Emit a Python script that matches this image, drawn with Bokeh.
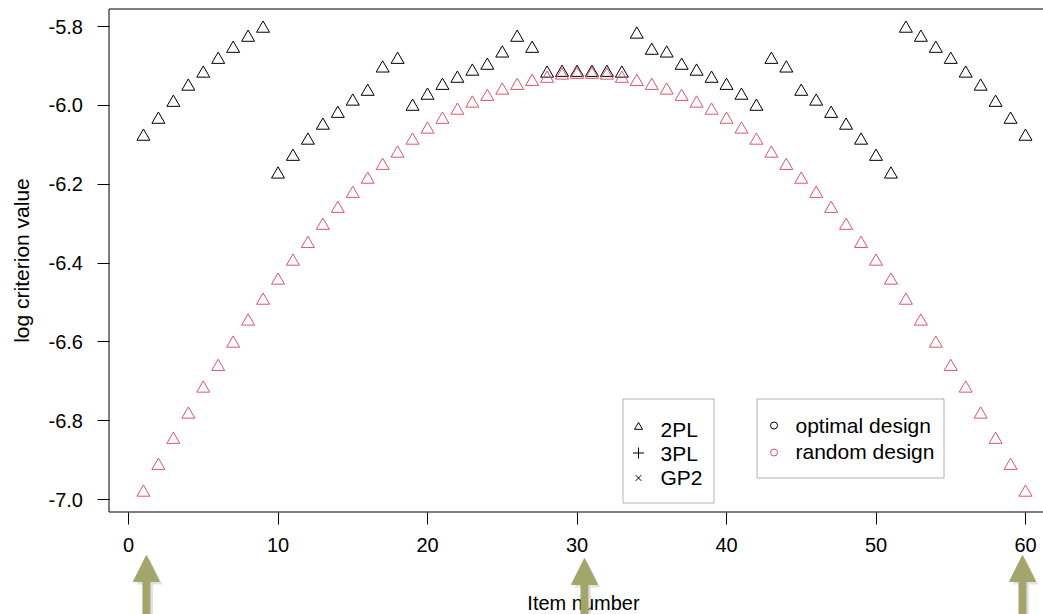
import math
from bokeh.plotting import figure
from bokeh.models import (Range1d, FixedTicker, PrintfTickFormatter, BoxAnnotation,
                          Label, ColumnDataSource)
from bokeh.embed import file_html
from bokeh.resources import INLINE

# ---------------- data ----------------
items = list(range(1, 61))

optimal_design = [
    -6.079, -6.036, -5.993, -5.952, -5.919, -5.884, -5.856, -5.828, -5.805, -6.175,
    -6.130, -6.089, -6.051, -6.021, -5.990, -5.965, -5.906, -5.884, -6.003, -5.975,
    -5.950, -5.932, -5.914, -5.899, -5.868, -5.828, -5.856, -5.919, -5.917, -5.917,
    -5.917, -5.917, -5.919, -5.820, -5.861, -5.868, -5.899, -5.914, -5.932, -5.950,
    -5.975, -6.003, -5.884, -5.906, -5.965, -5.990, -6.021, -6.051, -6.089, -6.130,
    -6.175, -5.805, -5.828, -5.856, -5.884, -5.919, -5.952, -5.993, -6.036, -6.079,
]

random_design = [
    -6.982, -6.914, -6.848, -6.784, -6.718, -6.663, -6.604, -6.548, -6.495, -6.444,
    -6.396, -6.351, -6.305, -6.262, -6.224, -6.188, -6.153, -6.122, -6.089, -6.061,
    -6.036, -6.013, -5.995, -5.978, -5.962, -5.950, -5.940, -5.932, -5.924, -5.922,
    -5.922, -5.924, -5.932, -5.940, -5.950, -5.962, -5.978, -5.995, -6.013, -6.036,
    -6.061, -6.089, -6.122, -6.153, -6.188, -6.224, -6.262, -6.305, -6.351, -6.396,
    -6.444, -6.495, -6.548, -6.604, -6.663, -6.718, -6.784, -6.848, -6.914, -6.982,
]

x_ticks = [0, 10, 20, 30, 40, 50, 60]
y_ticks = [-7.0, -6.8, -6.6, -6.4, -6.2, -6.0, -5.8]
x_title = "Item number"
y_title = "log criterion value"
model_labels = ["2PL", "3PL", "GP2"]
model_markers = ["triangle", "cross", "x"]
design_labels = ["optimal design", "random design"]
design_colors = ["black", "#DF536B"]
arrow_items = [1.2, 30.5, 59.8]

# ---------------- layout ----------------
# The frame covers the whole canvas; R's plot box, axes and titles are placed inside it
W, H = 1043, 614
X0, X1 = -8.5619, 61.2040
Y0, Y1 = -7.29163, -5.73404
FONT = "Liberation Sans"
OLIVE = "#A3A66B"


def dx(px):
    """canvas pixel x -> data x"""
    return X0 + px * (X1 - X0) / W


def dy(py):
    """canvas pixel y -> data y"""
    return Y1 - py * (Y1 - Y0) / H


def px_x(v):
    return (v - X0) * W / (X1 - X0)


BOX_LEFT, BOX_TOP, BOX_BOTTOM = dx(108.5), dy(8.5), dy(511.5)

p = figure(width=W, height=H, x_range=Range1d(X0, X1), y_range=Range1d(Y0, Y1),
           output_backend="svg", toolbar_location=None,
           min_border_left=0, min_border_right=0, min_border_top=0, min_border_bottom=0)

p.xgrid.visible = False
p.ygrid.visible = False
p.outline_line_color = None
p.background_fill_color = "white"
p.border_fill_color = "white"

for ax in (p.xaxis[0], p.yaxis[0]):
    ax.axis_line_color = None
    ax.major_tick_out = 12
    ax.major_tick_in = 0
    ax.minor_tick_out = 0
    ax.minor_tick_in = 0
    ax.major_tick_line_color = "black"
    ax.major_label_text_font = FONT
    ax.major_label_text_font_size = "20px"
    ax.major_label_text_color = "black"
    ax.major_label_standoff = 14

xa = p.xaxis[0]
xa.ticker = FixedTicker(ticks=x_ticks, minor_ticks=[])
xa.fixed_location = BOX_BOTTOM

ya = p.yaxis[0]
ya.ticker = FixedTicker(ticks=y_ticks, minor_ticks=[])
ya.formatter = PrintfTickFormatter(format="%.1f")
ya.fixed_location = BOX_LEFT

# plot box: left, top and bottom edges (right edge lies outside the picture)
p.segment(x0=[BOX_LEFT, BOX_LEFT, BOX_LEFT], y0=[BOX_BOTTOM, BOX_TOP, BOX_BOTTOM],
          x1=[BOX_LEFT, X1, X1], y1=[BOX_TOP, BOX_TOP, BOX_BOTTOM],
          line_color="black", line_width=1)

# axis titles
p.add_layout(Label(x=dx(21), y=dy(260), text=y_title, angle=math.pi / 2,
                   text_font=FONT, text_font_size="21px", text_color="black",
                   text_align="center", text_baseline="middle"))
p.add_layout(Label(x=dx(583), y=dy(602), text=x_title, text_font=FONT,
                   text_font_size="20px", text_color="black", text_align="center",
                   text_baseline="alphabetic"))

# ---------------- data marks ----------------
p.scatter(items, optimal_design, marker="triangle", size=13, fill_color=None,
          line_color=design_colors[0], line_width=1)
p.scatter(items, random_design, marker="triangle", size=13, fill_color=None,
          line_color=design_colors[1], line_width=1)

# ---------------- legends (drawn manually to match R's legend boxes) ----------------
p.add_layout(BoxAnnotation(left=dx(622.5), right=dx(713.5), top=dy(398.5), bottom=dy(502.5),
                           fill_color="white", fill_alpha=1.0, line_color="black",
                           line_width=1, level="underlay"))
p.add_layout(BoxAnnotation(left=dx(756.5), right=dx(943.5), top=dy(398.5), bottom=dy(477.5),
                           fill_color="white", fill_alpha=1.0, line_color="black",
                           line_width=1, level="underlay"))

leg1 = ColumnDataSource(dict(x=[dx(638)] * 3, y=[dy(426.5), dy(452.5), dy(477.5)],
                             marker=model_markers, size=[8, 11, 8]))
p.scatter("x", "y", source=leg1, marker="marker", size="size", fill_color=None,
          line_color="black", line_width=1)
for lab, base in zip(model_labels, [429, 453, 477]):
    p.add_layout(Label(x=dx(660), y=dy(base), text=lab, text_font=FONT,
                       text_font_size="21px", text_color="black",
                       text_baseline="alphabetic"))

leg2 = ColumnDataSource(dict(x=[dx(773.5)] * 2, y=[dy(425), dy(452)], color=design_colors))
p.scatter("x", "y", source=leg2, marker="circle", size=7, fill_color=None,
          line_color="color", line_width=1)
for lab, base in zip(design_labels, [425, 451]):
    p.add_layout(Label(x=dx(795), y=dy(base), text=lab, text_font=FONT,
                       text_font_size="21px", text_color="black",
                       text_baseline="alphabetic"))


# ---------------- arrows below the axis ----------------
def arrow_shape(cx, ay, off=0.0):
    pts = [(0, 0), (13, 26), (3.5, 26), (3.5, 80), (-3.5, 80), (-3.5, 26), (-13, 26)]
    return ([dx(cx + a + off) for a, b in pts], [dy(ay + b + off) for a, b in pts])


apexes = [555, 558, 555]
shadow = [arrow_shape(px_x(a), ap, off=3) for a, ap in zip(arrow_items, apexes)]
body = [arrow_shape(px_x(a), ap) for a, ap in zip(arrow_items, apexes)]
p.patches(xs=[s[0] for s in shadow], ys=[s[1] for s in shadow], fill_color="#8c8c8c",
          fill_alpha=0.25, line_color=None, level="overlay")
p.patches(xs=[b[0] for b in body], ys=[b[1] for b in body], fill_color=OLIVE,
          line_color=OLIVE, line_width=1, level="overlay")

open("out.html", "w").write(file_html(p, INLINE))
